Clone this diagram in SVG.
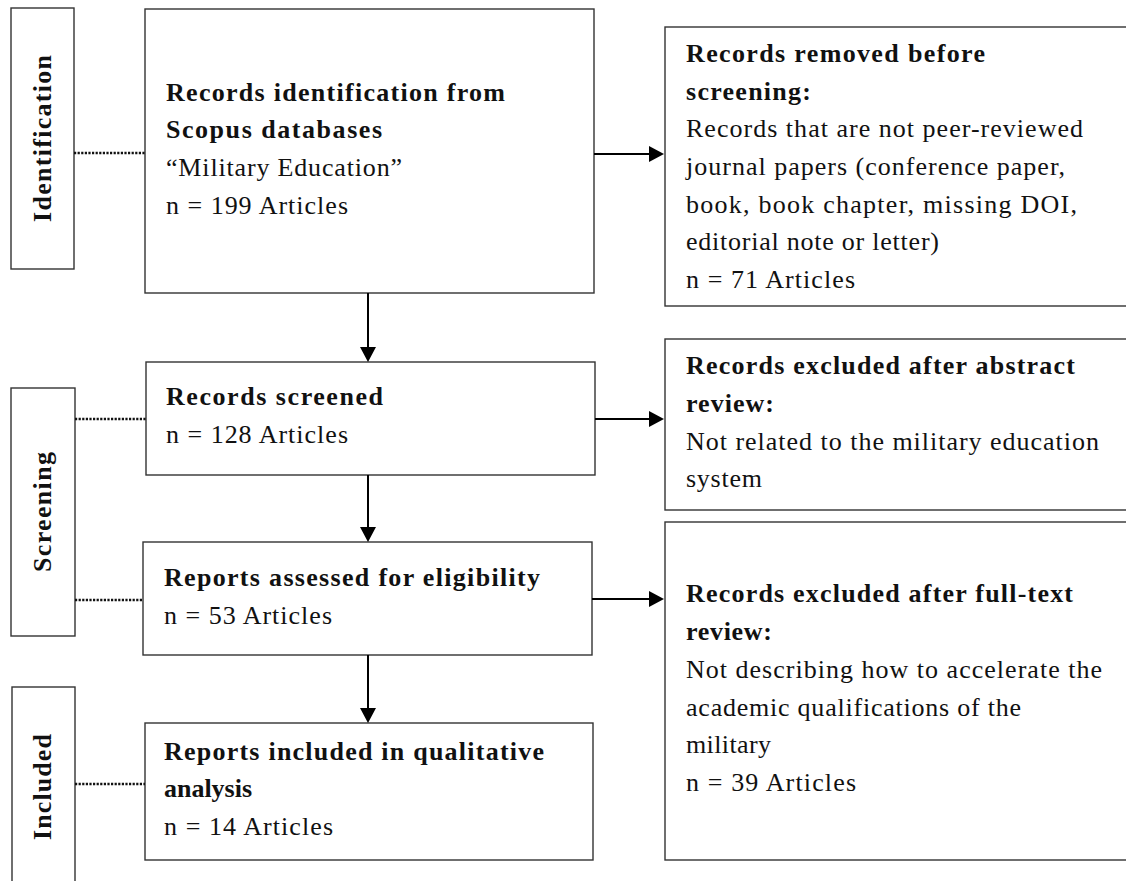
<svg xmlns="http://www.w3.org/2000/svg" width="1126" height="881" viewBox="0 0 1126 881">
<style>
.box{fill:#fff;stroke:#333;stroke-width:1.4}
.t{font-family:"Liberation Serif","Times New Roman",serif;font-size:26px;fill:#111}
.b{font-weight:bold}
.dot{stroke:#111;stroke-width:2.4;stroke-dasharray:2.2 1.4;fill:none}
.arr{stroke:#000;stroke-width:2;fill:none;marker-end:url(#ah)}
</style>
<defs>
<marker id="ah" viewBox="0 0 15 16" refX="7" refY="8" markerWidth="15" markerHeight="16" orient="auto" markerUnits="userSpaceOnUse">
<path d="M0,0 L15,8 L0,16 z" fill="#000"/>
</marker>
</defs>
<rect width="1126" height="881" fill="#fff"/>

<g id="stage-identification">
<rect class="box" x="11" y="8" width="63" height="261"/>
<text class="t b" transform="translate(51,138.5) rotate(-90)" text-anchor="middle" textLength="167">Identification</text>
</g>
<g id="stage-screening">
<rect class="box" x="11" y="388" width="64" height="248"/>
<text class="t b" transform="translate(51,512) rotate(-90)" text-anchor="middle" textLength="120">Screening</text>
</g>
<g id="stage-included">
<rect class="box" x="12" y="687" width="63" height="200"/>
<text class="t b" transform="translate(51,787) rotate(-90)" text-anchor="middle" textLength="106">Included</text>
</g>

<g id="node-identification">
<rect class="box" x="145" y="9" width="449" height="284"/>
<text class="t b" x="166" y="101" textLength="339">Records identification from</text>
<text class="t b" x="166" y="138" textLength="216">Scopus databases</text>
<text class="t" x="166" y="176" textLength="236">“Military Education”</text>
<text class="t" x="166" y="214" textLength="182">n = 199 Articles</text>
</g>

<g id="node-screened">
<rect class="box" x="146" y="362" width="449" height="113"/>
<text class="t b" x="166" y="405" textLength="217">Records screened</text>
<text class="t" x="166" y="443" textLength="182">n = 128 Articles</text>
</g>

<g id="node-eligibility">
<rect class="box" x="143" y="542" width="449" height="113"/>
<text class="t b" x="164" y="586" textLength="376">Reports assessed for eligibility</text>
<text class="t" x="164" y="624" textLength="168">n = 53 Articles</text>
</g>

<g id="node-included">
<rect class="box" x="145" y="723" width="448" height="137"/>
<text class="t b" x="164" y="760" textLength="380">Reports included in qualitative</text>
<text class="t b" x="164" y="797" textLength="88">analysis</text>
<text class="t" x="164" y="835" textLength="169">n = 14 Articles</text>
</g>

<g id="node-removed">
<rect class="box" x="665" y="27" width="470" height="279"/>
<text class="t b" x="686" y="62" textLength="299">Records removed before</text>
<text class="t b" x="686" y="100" textLength="125">screening:</text>
<text class="t" x="686" y="137" textLength="397">Records that are not peer-reviewed</text>
<text class="t" x="686" y="175" textLength="379">journal papers (conference paper,</text>
<text class="t" x="686" y="213" textLength="391">book, book chapter, missing DOI,</text>
<text class="t" x="686" y="250" textLength="253">editorial note or letter)</text>
<text class="t" x="686" y="288" textLength="169">n = 71 Articles</text>
</g>

<g id="node-excluded-abstract">
<rect class="box" x="665" y="339" width="470" height="171"/>
<text class="t b" x="686" y="374" textLength="389">Records excluded after abstract</text>
<text class="t b" x="686" y="412" textLength="88">review:</text>
<text class="t" x="686" y="450" textLength="413">Not related to the military education</text>
<text class="t" x="686" y="487" textLength="76">system</text>
</g>

<g id="node-excluded-fulltext">
<rect class="box" x="665" y="522" width="470" height="338"/>
<text class="t b" x="686" y="602" textLength="387">Records excluded after full-text</text>
<text class="t b" x="686" y="640" textLength="86">review:</text>
<text class="t" x="686" y="678" textLength="416">Not describing how to accelerate the</text>
<text class="t" x="686" y="716" textLength="335">academic qualifications of the</text>
<text class="t" x="686" y="753" textLength="85">military</text>
<text class="t" x="686" y="791" textLength="170">n = 39 Articles</text>
</g>

<g id="connectors">
<line class="dot" x1="74" y1="153" x2="145" y2="153"/>
<line class="dot" x1="75" y1="419" x2="146" y2="419"/>
<line class="dot" x1="75" y1="600" x2="143" y2="600"/>
<line class="dot" x1="75" y1="784" x2="145" y2="784"/>
<line class="arr" x1="594" y1="154" x2="656" y2="154"/>
<line class="arr" x1="595" y1="419" x2="656" y2="419"/>
<line class="arr" x1="592" y1="599" x2="656" y2="599"/>
<line class="arr" x1="368" y1="293" x2="368" y2="354"/>
<line class="arr" x1="368" y1="475" x2="368" y2="534"/>
<line class="arr" x1="368" y1="655" x2="368" y2="715"/>
</g>
</svg>
